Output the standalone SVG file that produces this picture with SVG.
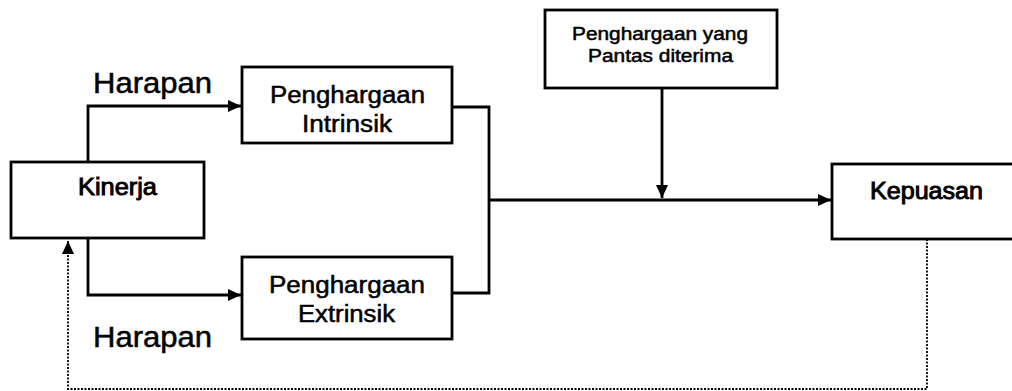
<svg xmlns="http://www.w3.org/2000/svg" width="1012" height="391" viewBox="0 0 1012 391">
<style>
.box{fill:#fff;stroke:#000;stroke-width:2.8}
.con{fill:none;stroke:#000;stroke-width:2.8}
.dot{fill:none;stroke:#000;stroke-width:1.8;stroke-dasharray:2 1.5}
text{font-family:"Liberation Sans",Arial,sans-serif;fill:#000;stroke:#000;stroke-width:0.5}
.lbl{font-size:29px}
.t{font-size:23px}
.b{stroke-width:0.9}
.s{font-size:18px}
</style>
<defs>
<marker id="ah" markerUnits="userSpaceOnUse" markerWidth="14" markerHeight="12" refX="13" refY="6" orient="auto">
<path d="M0,0 L13,6 L0,12 Z" fill="#000"/>
</marker>
</defs>
<g id="connectors">
<polyline class="con" points="88,162 88,106 241,106" marker-end="url(#ah)"/>
<polyline class="con" points="88,238 88,295 241,295" marker-end="url(#ah)"/>
<polyline class="con" points="452,107 489,107 489,293 452,293"/>
<line class="con" x1="489" y1="200" x2="831" y2="200" marker-end="url(#ah)"/>
<line class="con" x1="662" y1="88" x2="662" y2="198" marker-end="url(#ah)"/>
<polyline class="dot" points="927,239 927,389 68,389 68,241" marker-end="url(#ah)"/>
</g>
<g id="harapan-top"><text class="lbl" x="93" y="93" textLength="119" lengthAdjust="spacingAndGlyphs">Harapan</text></g>
<g id="harapan-bottom"><text class="lbl" x="93" y="347" textLength="119" lengthAdjust="spacingAndGlyphs">Harapan</text></g>
<g id="kinerja">
<rect class="box" x="11" y="162" width="193" height="76"/>
<text class="t b" x="78" y="195" textLength="79" lengthAdjust="spacingAndGlyphs">Kinerja</text>
</g>
<g id="intrinsik">
<rect class="box" x="242" y="67" width="210" height="76"/>
<text class="t" x="270" y="103" textLength="155" lengthAdjust="spacingAndGlyphs">Penghargaan</text>
<text class="t" x="302" y="132" textLength="90" lengthAdjust="spacingAndGlyphs">Intrinsik</text>
</g>
<g id="extrinsik">
<rect class="box" x="242" y="257" width="210" height="82"/>
<text class="t" x="269" y="293" textLength="156" lengthAdjust="spacingAndGlyphs">Penghargaan</text>
<text class="t" x="298" y="322" textLength="97" lengthAdjust="spacingAndGlyphs">Extrinsik</text>
</g>
<g id="pantas">
<rect class="box" x="545" y="10" width="232" height="78"/>
<text class="s" x="572" y="40" textLength="176" lengthAdjust="spacingAndGlyphs">Penghargaan yang</text>
<text class="s" x="588" y="62" textLength="145" lengthAdjust="spacingAndGlyphs">Pantas diterima</text>
</g>
<g id="kepuasan">
<rect class="box" x="832" y="164" width="190" height="75"/>
<text class="t b" x="870" y="199" textLength="113" lengthAdjust="spacingAndGlyphs">Kepuasan</text>
</g>
</svg>
